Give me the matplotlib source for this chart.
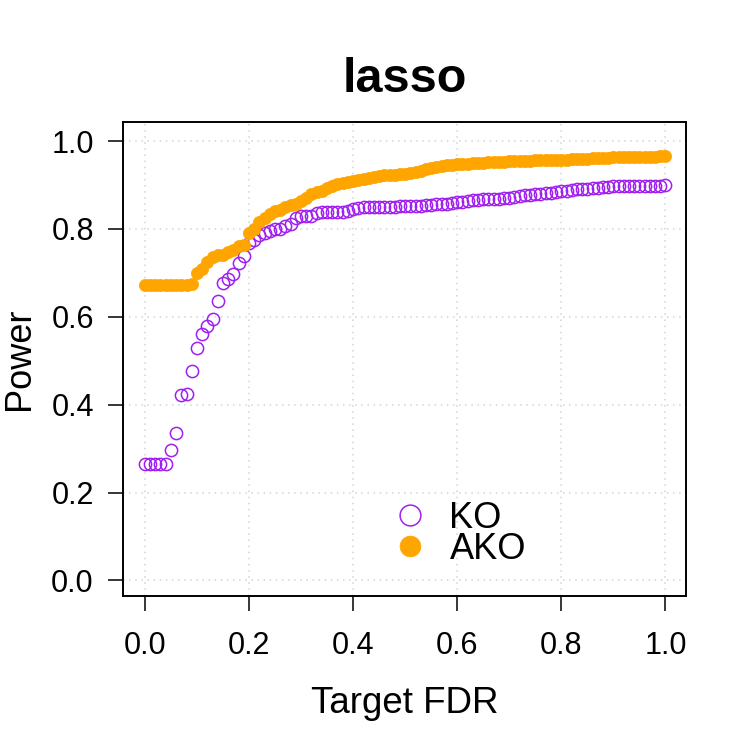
import numpy as np
import matplotlib
matplotlib.use("Agg")
import matplotlib.pyplot as plt

plt.rcParams['font.family'] = ['Liberation Sans', 'DejaVu Sans']

# target FDR grid, 0 to 1 by 0.01
fdr = np.round(np.arange(0, 101) / 100, 2)

ko_power = [
    0.265, 0.265, 0.265, 0.265, 0.265, 0.298, 0.336, 0.423, 0.425, 0.476,
    0.529, 0.560, 0.580, 0.594, 0.636, 0.676, 0.687, 0.697, 0.723, 0.738,
    0.767, 0.776, 0.786, 0.791, 0.796, 0.799, 0.801, 0.806, 0.811, 0.824,
    0.829, 0.829, 0.829, 0.837, 0.838, 0.838, 0.838, 0.838, 0.838, 0.841,
    0.846, 0.848, 0.849, 0.849, 0.850, 0.850, 0.850, 0.851, 0.851, 0.852,
    0.852, 0.852, 0.853, 0.853, 0.854, 0.855, 0.856, 0.857, 0.858, 0.859,
    0.861, 0.862, 0.864, 0.866, 0.867, 0.868, 0.869, 0.869, 0.869, 0.870,
    0.871, 0.873, 0.875, 0.877, 0.878, 0.879, 0.880, 0.882, 0.883, 0.885,
    0.886, 0.887, 0.889, 0.890, 0.891, 0.892, 0.893, 0.894, 0.895, 0.896,
    0.897, 0.897, 0.898, 0.898, 0.898, 0.898, 0.898, 0.899, 0.899, 0.899,
    0.900,
]

ako_power = [
    0.672, 0.672, 0.672, 0.672, 0.672, 0.672, 0.672, 0.672, 0.672, 0.675,
    0.699, 0.710, 0.725, 0.736, 0.740, 0.741, 0.748, 0.752, 0.761, 0.763,
    0.790, 0.800, 0.816, 0.826, 0.834, 0.840, 0.844, 0.850, 0.855, 0.858,
    0.863, 0.870, 0.879, 0.885, 0.887, 0.893, 0.898, 0.902, 0.905, 0.907,
    0.910, 0.912, 0.914, 0.916, 0.918, 0.920, 0.922, 0.923, 0.924, 0.925,
    0.926, 0.928, 0.930, 0.933, 0.936, 0.939, 0.941, 0.943, 0.945, 0.946,
    0.947, 0.948, 0.949, 0.950, 0.950, 0.951, 0.952, 0.952, 0.953, 0.953,
    0.954, 0.954, 0.955, 0.955, 0.955, 0.956, 0.956, 0.956, 0.957, 0.957,
    0.958, 0.958, 0.959, 0.959, 0.960, 0.960, 0.961, 0.961, 0.962, 0.962,
    0.963, 0.963, 0.963, 0.964, 0.964, 0.964, 0.965, 0.965, 0.965, 0.966,
    0.966,
]

ticks = [0.0, 0.2, 0.4, 0.6, 0.8, 1.0]
tick_labels = ["0.0", "0.2", "0.4", "0.6", "0.8", "1.0"]

fig = plt.figure(figsize=(7.5, 7.5), dpi=100)
ax = fig.add_axes([0.164, 0.205, 0.751, 0.632])

ax.grid(True, color='lightgray', linestyle=(0, (1, 3)), linewidth=1.1, zorder=0)
ax.set_axisbelow(True)

ax.plot(fdr, ko_power, linestyle='none', marker='o', markersize=8.8,
        markerfacecolor='none', markeredgecolor='#A020F0', markeredgewidth=1.1,
        label='KO', zorder=3)
ax.plot(fdr, ako_power, linestyle='none', marker='o', markersize=8.8,
        markerfacecolor='#FFA500', markeredgecolor='#FFA500', markeredgewidth=0.5,
        label='AKO', zorder=4)

ax.set_xlim(-0.042, 1.04)
ax.set_ylim(-0.036, 1.043)
ax.set_xticks(ticks)
ax.set_xticklabels(tick_labels)
ax.set_yticks(ticks)
ax.set_yticklabels(tick_labels)
ax.tick_params(axis='both', direction='out', length=11, width=1.1, labelsize=22)
ax.tick_params(axis='x', pad=14)
ax.tick_params(axis='y', pad=10)

for s in ax.spines.values():
    s.set_linewidth(1.4)

ax.set_title('lasso', fontsize=35, fontweight='bold', pad=22)
ax.set_xlabel('Target FDR', fontsize=26.5)
ax.set_ylabel('Power', fontsize=26)
ax.xaxis.set_label_coords(0.5, -0.19)
ax.yaxis.set_label_coords(-0.152, 0.5)

ax.legend(loc='center left', bbox_to_anchor=(0.445, 0.132), frameon=False,
          fontsize=26, markerscale=1.7, handlelength=1.0, handletextpad=0.6,
          labelspacing=-0.12, borderpad=0)

fig.savefig('out.png', dpi=100)
